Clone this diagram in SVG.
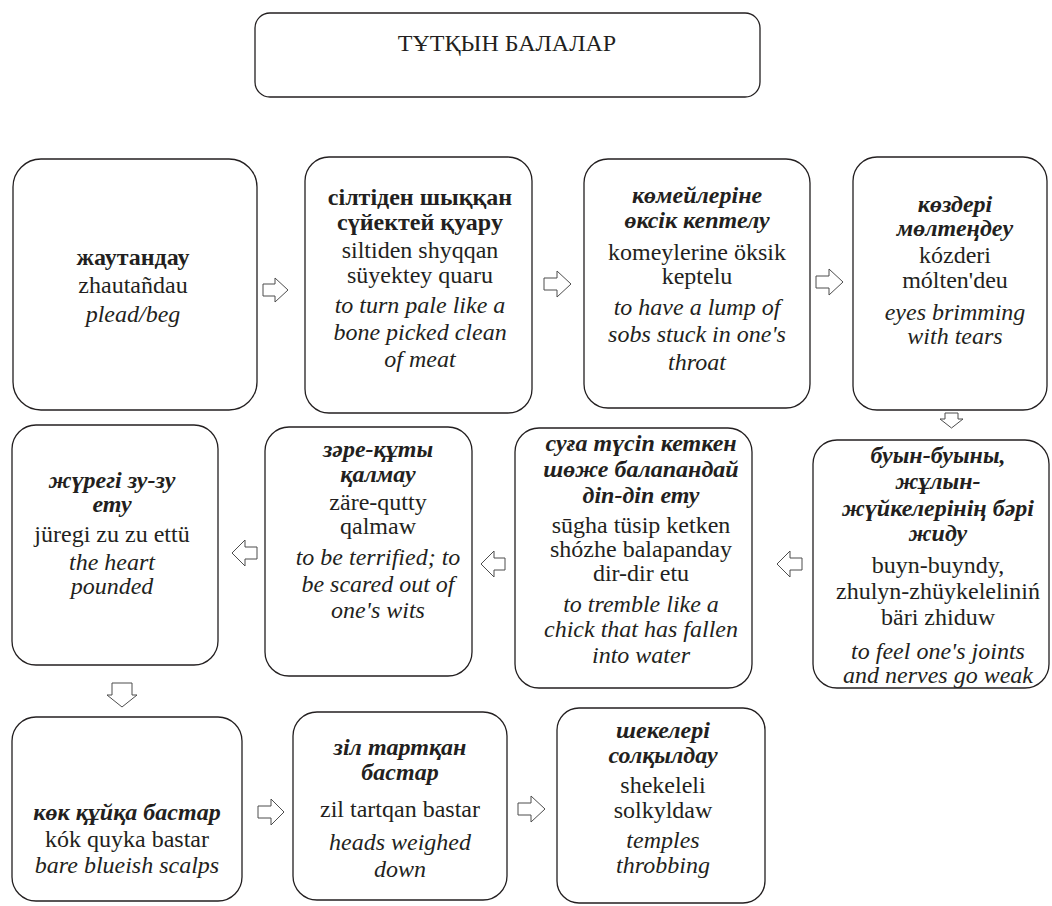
<svg xmlns="http://www.w3.org/2000/svg" width="1052" height="906" viewBox="0 0 1052 906">
<style>
  svg text, svg text.t { font-family: 'Liberation Serif', serif !important; }
  .t { font-size: 24px; fill: #231f20; text-anchor: middle; }
  .b { font-weight: bold; }
  .bi { font-weight: bold; font-style: italic; }
  .i { font-style: italic; }
  .box { fill: #ffffff; stroke: #231f20; stroke-width: 1.3; }
  .arr { fill: #ffffff; stroke: #4d4d4d; stroke-width: 1; }
</style>
<rect width="1052" height="906" fill="#ffffff"/>

<g id="title">
  <rect class="box" x="255" y="13" width="505" height="84" rx="15"/>
  <text class="t" style="font-family:'Liberation Serif',serif !important" x="507" y="51">ТҰТҚЫН БАЛАЛАР</text>
</g>

<g id="n1">
  <rect class="box" x="13" y="159" width="244" height="251" rx="28"/>
  <text class="t b" style="font-family:'Liberation Serif',serif !important" x="133" y="265">жаутандау</text>
  <text class="t" style="font-family:'Liberation Serif',serif !important" x="133" y="293">zhautañdau</text>
  <text class="t i" style="font-family:'Liberation Serif',serif !important" x="133" y="322">plead/beg</text>
</g>

<g id="n2">
  <rect class="box" x="305" y="157" width="227" height="256" rx="24"/>
  <text class="t b" style="font-family:'Liberation Serif',serif !important" x="420" y="205">сілтіден шыққан</text>
  <text class="t b" style="font-family:'Liberation Serif',serif !important" x="420" y="230">сүйектей қуару</text>
  <text class="t" style="font-family:'Liberation Serif',serif !important" x="420" y="258">siltiden shyqqan</text>
  <text class="t" style="font-family:'Liberation Serif',serif !important" x="420" y="283">süyektey quaru</text>
  <text class="t i" style="font-family:'Liberation Serif',serif !important" x="420" y="313">to turn pale like a</text>
  <text class="t i" style="font-family:'Liberation Serif',serif !important" x="420" y="340">bone picked clean</text>
  <text class="t i" style="font-family:'Liberation Serif',serif !important" x="420" y="367">of meat</text>
</g>

<g id="n3">
  <rect class="box" x="584" y="159" width="226" height="249" rx="24"/>
  <text class="t bi" style="font-family:'Liberation Serif',serif !important" x="697" y="203">көмейлеріне</text>
  <text class="t bi" style="font-family:'Liberation Serif',serif !important" x="697" y="228">өксік кептелу</text>
  <text class="t" style="font-family:'Liberation Serif',serif !important" x="697" y="260">komeylerine öksik</text>
  <text class="t" style="font-family:'Liberation Serif',serif !important" x="697" y="284">keptelu</text>
  <text class="t i" style="font-family:'Liberation Serif',serif !important" x="697" y="315">to have a lump of</text>
  <text class="t i" style="font-family:'Liberation Serif',serif !important" x="697" y="342">sobs stuck in one's</text>
  <text class="t i" style="font-family:'Liberation Serif',serif !important" x="697" y="370">throat</text>
</g>

<g id="n4">
  <rect class="box" x="853" y="157" width="194" height="253" rx="24"/>
  <text class="t bi" style="font-family:'Liberation Serif',serif !important" x="955" y="212">көздері</text>
  <text class="t bi" style="font-family:'Liberation Serif',serif !important" x="955" y="236">мөлтеңдеу</text>
  <text class="t" style="font-family:'Liberation Serif',serif !important" x="955" y="263">kózderi</text>
  <text class="t" style="font-family:'Liberation Serif',serif !important" x="955" y="288">mólten'deu</text>
  <text class="t i" style="font-family:'Liberation Serif',serif !important" x="955" y="320">eyes brimming</text>
  <text class="t i" style="font-family:'Liberation Serif',serif !important" x="955" y="344">with tears</text>
</g>

<g id="n5">
  <rect class="box" x="813" y="440" width="236" height="248" rx="24"/>
  <text class="t bi" style="font-family:'Liberation Serif',serif !important" x="938" y="463">буын-буыны,</text>
  <text class="t bi" style="font-family:'Liberation Serif',serif !important" x="938" y="489">жұлын-</text>
  <text class="t bi" style="font-family:'Liberation Serif',serif !important" x="938" y="516">жүйкелерінің бәрі</text>
  <text class="t bi" style="font-family:'Liberation Serif',serif !important" x="938" y="541">жиду</text>
  <text class="t" style="font-family:'Liberation Serif',serif !important" x="938" y="573">buyn-buyndy,</text>
  <text class="t" style="font-family:'Liberation Serif',serif !important" x="938" y="599">zhulyn-zhüykeleliniń</text>
  <text class="t" style="font-family:'Liberation Serif',serif !important" x="938" y="625">bäri zhiduw</text>
  <text class="t i" style="font-family:'Liberation Serif',serif !important" x="938" y="659">to feel one's joints</text>
  <text class="t i" style="font-family:'Liberation Serif',serif !important" x="938" y="683">and nerves go weak</text>
</g>

<g id="n6">
  <rect class="box" x="515" y="428" width="237" height="260" rx="24"/>
  <text class="t bi" style="font-family:'Liberation Serif',serif !important" x="641" y="451">суға түсіп кеткен</text>
  <text class="t bi" style="font-family:'Liberation Serif',serif !important" x="641" y="477">шөже балапандай</text>
  <text class="t bi" style="font-family:'Liberation Serif',serif !important" x="641" y="503">діп-діп ету</text>
  <text class="t" style="font-family:'Liberation Serif',serif !important" x="641" y="533">sūgha tüsip ketken</text>
  <text class="t" style="font-family:'Liberation Serif',serif !important" x="641" y="557">shózhe balapanday</text>
  <text class="t" style="font-family:'Liberation Serif',serif !important" x="641" y="581">dir-dir etu</text>
  <text class="t i" style="font-family:'Liberation Serif',serif !important" x="641" y="612">to tremble like a</text>
  <text class="t i" style="font-family:'Liberation Serif',serif !important" x="641" y="637">chick that has fallen</text>
  <text class="t i" style="font-family:'Liberation Serif',serif !important" x="641" y="663">into water</text>
</g>

<g id="n7">
  <rect class="box" x="265" y="427" width="207" height="249" rx="24"/>
  <text class="t bi" style="font-family:'Liberation Serif',serif !important" x="378" y="457">зәре-құты</text>
  <text class="t bi" style="font-family:'Liberation Serif',serif !important" x="378" y="482">қалмау</text>
  <text class="t" style="font-family:'Liberation Serif',serif !important" x="378" y="510">zäre-qutty</text>
  <text class="t" style="font-family:'Liberation Serif',serif !important" x="378" y="534">qalmaw</text>
  <text class="t i" style="font-family:'Liberation Serif',serif !important" x="378" y="565">to be terrified; to</text>
  <text class="t i" style="font-family:'Liberation Serif',serif !important" x="378" y="592">be scared out of</text>
  <text class="t i" style="font-family:'Liberation Serif',serif !important" x="378" y="618">one's wits</text>
</g>

<g id="n8">
  <rect class="box" x="12" y="425" width="206" height="240" rx="24"/>
  <text class="t bi" style="font-family:'Liberation Serif',serif !important" x="112" y="488">жүрегі зу-зу</text>
  <text class="t bi" style="font-family:'Liberation Serif',serif !important" x="112" y="512">ету</text>
  <text class="t" style="font-family:'Liberation Serif',serif !important" x="112" y="542">jüregi zu zu ettü</text>
  <text class="t i" style="font-family:'Liberation Serif',serif !important" x="112" y="570">the heart</text>
  <text class="t i" style="font-family:'Liberation Serif',serif !important" x="112" y="594">pounded</text>
</g>

<g id="n9">
  <rect class="box" x="12" y="717" width="230" height="184" rx="24"/>
  <text class="t bi" style="font-family:'Liberation Serif',serif !important" x="127" y="820">көк құйқа бастар</text>
  <text class="t" style="font-family:'Liberation Serif',serif !important" x="127" y="847">kók quyka bastar</text>
  <text class="t i" style="font-family:'Liberation Serif',serif !important" x="127" y="873">bare blueish scalps</text>
</g>

<g id="n10">
  <rect class="box" x="293" y="712" width="214" height="188" rx="24"/>
  <text class="t bi" style="font-family:'Liberation Serif',serif !important" x="400" y="755">зіл тартқан</text>
  <text class="t bi" style="font-family:'Liberation Serif',serif !important" x="400" y="780">бастар</text>
  <text class="t" style="font-family:'Liberation Serif',serif !important" x="400" y="817">zil tartqan bastar</text>
  <text class="t i" style="font-family:'Liberation Serif',serif !important" x="400" y="850">heads weighed</text>
  <text class="t i" style="font-family:'Liberation Serif',serif !important" x="400" y="877">down</text>
</g>

<g id="n11">
  <rect class="box" x="557" y="708" width="208" height="195" rx="22"/>
  <text class="t bi" style="font-family:'Liberation Serif',serif !important" x="663" y="738">шекелері</text>
  <text class="t bi" style="font-family:'Liberation Serif',serif !important" x="663" y="763">солқылдау</text>
  <text class="t" style="font-family:'Liberation Serif',serif !important" x="663" y="793">shekeleli</text>
  <text class="t" style="font-family:'Liberation Serif',serif !important" x="663" y="818">solkyldaw</text>
  <text class="t i" style="font-family:'Liberation Serif',serif !important" x="663" y="848">temples</text>
  <text class="t i" style="font-family:'Liberation Serif',serif !important" x="663" y="873">throbbing</text>
</g>

<g id="connectors">
  <polygon class="arr" points="263,284 275,284 275,278 288,290 275,302 275,296 263,296"/>
  <polygon class="arr" points="544,278 557,278 557,271 571,284 557,297 557,290 544,290"/>
  <polygon class="arr" points="816,276 829,276 829,269 843,282 829,295 829,288 816,288"/>
  <polygon class="arr" points="258,806 271,806 271,799 284,812 271,825 271,818 258,818"/>
  <polygon class="arr" points="518,803 531,803 531,796 545,809 531,822 531,815 518,815"/>
  <polygon class="arr" points="802,558 790,558 790,551 777,564 790,577 790,570 802,570"/>
  <polygon class="arr" points="505,558 494,558 494,551 481,564 494,577 494,570 505,570"/>
  <polygon class="arr" points="257,547 245,547 245,540 232,553 245,566 245,559 257,559"/>
  <polygon class="arr" points="945,413 958,413 958,419 963,419 951.5,428 940,419 945,419"/>
  <polygon class="arr" points="112,683 132,683 132,695 137,695 122,707 107,695 112,695"/>
</g>
</svg>
